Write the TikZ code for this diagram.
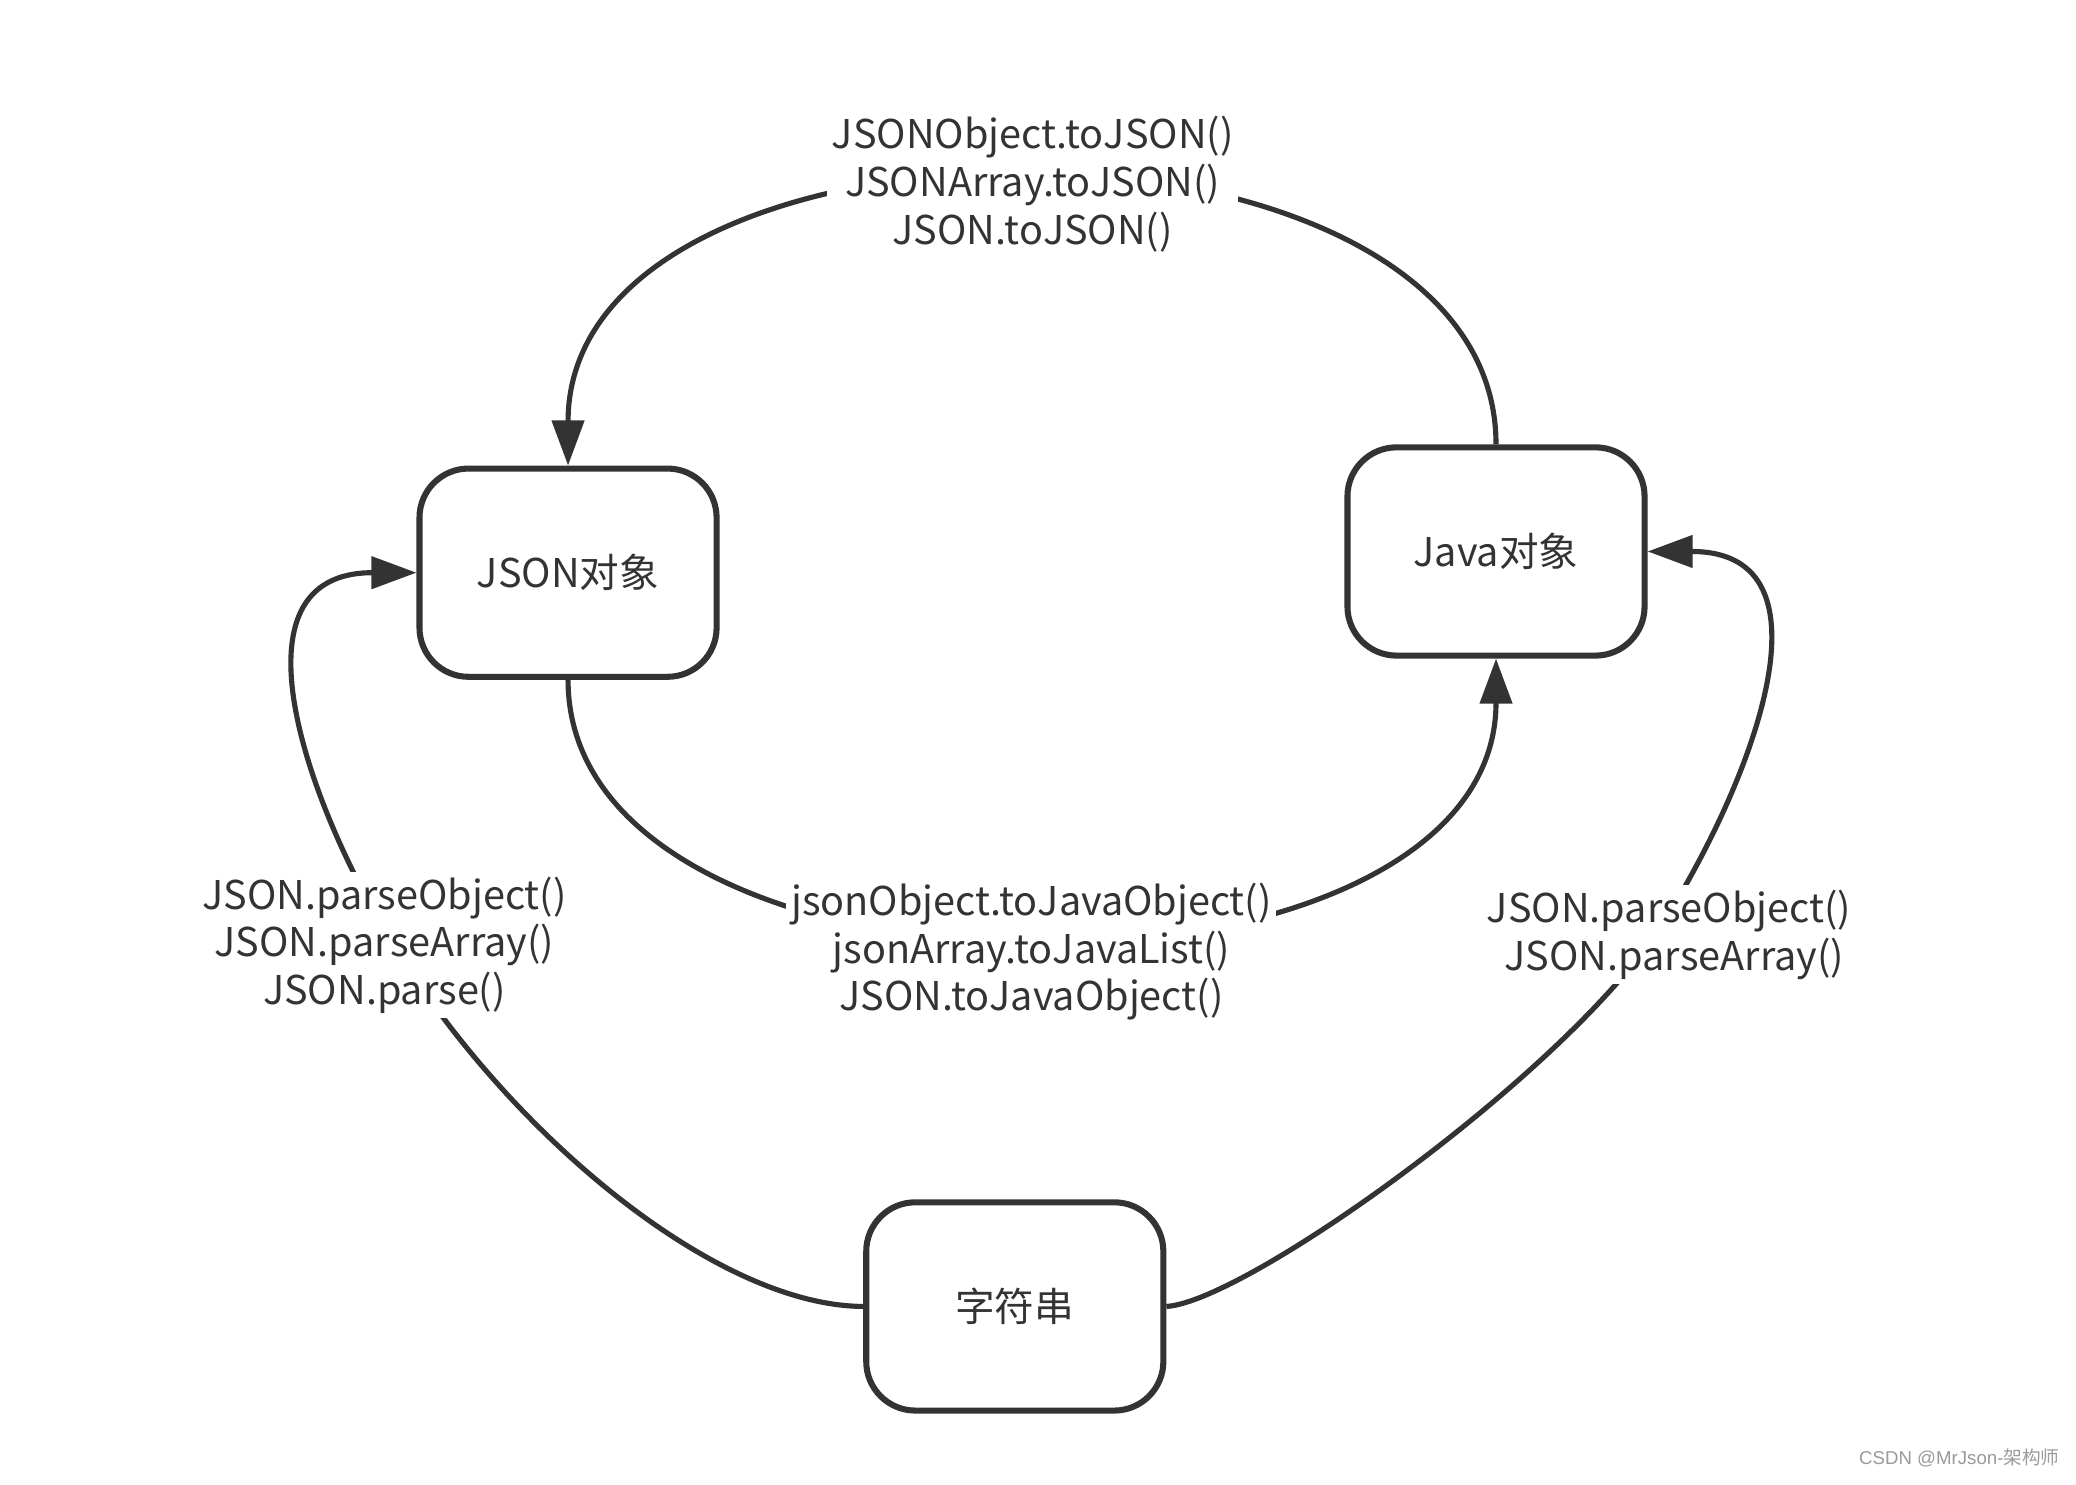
\documentclass[tikz,border=0pt]{standalone}
\usepackage{fontspec}
\setmainfont{Noto Sans CJK SC}
\newfontfamily\wmlatin{Liberation Sans}
\newfontfamily\wmcjk{Noto Sans CJK SC}
\usetikzlibrary{arrows.meta}
\definecolor{ink}{HTML}{333333}
\definecolor{wmgray}{HTML}{9A9A9A}
\tikzset{
  box/.style={draw=ink, line width=1.3pt, rounded corners=0.37cm,
    minimum width=2.24cm, minimum height=1.57cm, inner sep=0pt, text=ink,
    font=\fontsize{8.5pt}{10.24pt}\selectfont},
  conn/.style={draw=ink, line width=1.1pt},
  arr/.style={-{Triangle[length=0.34cm,width=0.24cm]}, ink},
  lbl/.style={fill=white, align=center, inner sep=1pt, text=ink,
    font=\fontsize{8.5pt}{10.24pt}\selectfont},
  wm/.style={text=wmgray, inner sep=0pt, font=\fontsize{4pt}{5pt}\selectfont}
}
\begin{document}
\begin{tikzpicture}[x=0.01cm, y=-0.01cm]
\useasboundingbox[fill=white] (0,0) rectangle (1566,1120.2);
% boxes
\node[box] (json) at (428.5,432) {JSON对象};
\node[box] (java) at (1128.5,416) {Java对象};
\node[box] (str) at (765.5,985.5) {字符串};
% through points of the side curves
\coordinate (lp) at (297,713);
\coordinate (rp) at (1254,697);
% connectors
\draw[conn,arr] (java.north) .. controls +(0,-271) and +(0,-287) .. (json.north);
\draw[conn,arr] (json.south) .. controls +(0,263) and +(0,279) .. (java.south);
\draw[conn,arr] (str.west) .. controls (540,985) and (384,855) .. (lp)
  .. controls (230,604) and (170,432) .. (json.west);
\draw[conn,arr] (str.east) .. controls (940,982) and (1183.5,808) .. (rp)
  .. controls (1320,593) and (1390,416) .. (java.east);
% labels
\node[lbl] (ltop) at (779,139) {JSONObject.toJSON()\\JSONArray.toJSON()\\JSON.toJSON()};
\node[lbl] (lmid) at (778,718) {jsonObject.toJavaObject()\\jsonArray.toJavaList()\\JSON.toJavaObject()};
\node[lbl] (lleft) at (290,713) {JSON.parseObject()\\JSON.parseArray()\\JSON.parse()};
\node[lbl] (lright) at (1259,705) {JSON.parseObject()\\\hspace{0.08cm}JSON.parseArray()};
% watermark
\node[wm] (wmark) at (1478,1100) {{\wmlatin CSDN @MrJson-}{\wmcjk 架构师}};
\end{tikzpicture}
\end{document}
